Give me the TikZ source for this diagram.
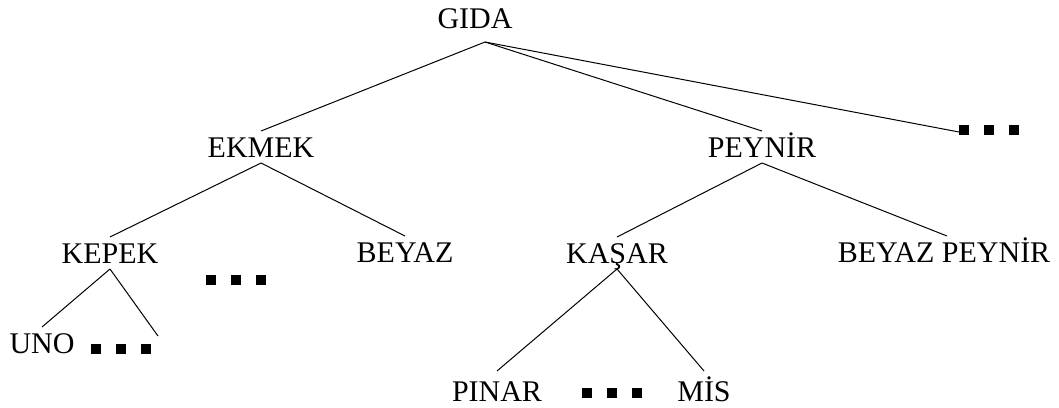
\documentclass[tikz,border=0pt]{standalone}
\usepackage{fontspec}
\setmainfont{Liberation Serif}
% three filled squares standing for omitted children
\newcommand\tripledots{\rule{5pt}{5pt}\hspace{7.5pt}\rule{5pt}{5pt}\hspace{7.5pt}\rule{5pt}{5pt}}
\begin{document}
\begin{tikzpicture}[x=0.5pt,y=-0.5pt,
  term/.style={inner sep=0pt, outer ysep=3pt, text height=10pt, text depth=0pt,
               font=\fontsize{15}{18}\selectfont},
  more/.style={inner sep=0pt, outer sep=0pt},
  edge/.style={line width=0.5pt}]
\useasboundingbox (0,0) rectangle (1059,407);

% taxonomy nodes
\node[term] (gida)   at (475,18)  {GIDA};
\node[term] (ekmek)  at (261,147) {EKMEK};
\node[term] (peynir) at (762,147) {PEYNİR};
\node[term] (kepek)  at (110,253) {KEPEK};
\node[term] (beyaz)  at (405,252) {BEYAZ};
\node[term] (kasar)  at (617,253) {KAŞAR};
\node[term] (bpeynir) at (944,252) {BEYAZ PEYNİR};
\node[term] (uno)    at (42,343)  {UNO};
\node[term] (pinar)  at (497,391) {PINAR};
\node[term] (mis)    at (704,391) {MİS};

% omitted siblings
\node[more] (moreG) at (989,130) {\tripledots};
\node[more] (moreE) at (236,280) {\tripledots};
\node[more] (moreK) at (121,349) {\tripledots};
\node[more] (moreP) at (612,393) {\tripledots};

% connectors
\coordinate (gidaB) at ([xshift=5pt,yshift=-4pt]gida.south);
\draw[edge] (gidaB) -- (ekmek.north);
\draw[edge] (gidaB) -- (peynir.north);
\draw[edge] (gidaB) -- ([yshift=-1pt]moreG.west);

\draw[edge] (ekmek.south) -- (kepek.north);
\draw[edge] (ekmek.south) -- (beyaz.north);

\draw[edge] (peynir.south) -- (kasar.north);
\draw[edge] (peynir.south) -- ([xshift=1.5pt]bpeynir.north);

\draw[edge] (kepek.south) -- (uno.north);
\draw[edge] (kepek.south) -- ([xshift=3.5pt,yshift=4pt]moreK.north east);

\draw[edge] (kasar.south) -- ([yshift=2pt]pinar.north);
\draw[edge] (kasar.south) -- ([yshift=2pt]mis.north);
\end{tikzpicture}
\end{document}
